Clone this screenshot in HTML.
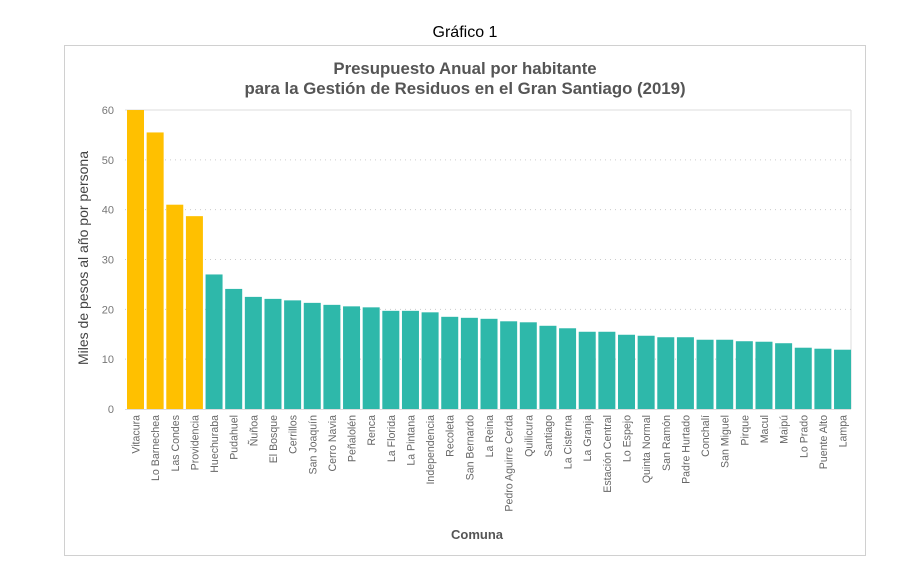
<!DOCTYPE html>
<html><head><meta charset="utf-8"><style>
body{margin:0;background:#fff;}
svg{display:block;font-family:"Liberation Sans",sans-serif;}
</style></head><body>
<svg id="s" width="913" height="578" viewBox="0 0 913 578">
<text x="465" y="37" text-anchor="middle" font-size="16" fill="#000">Gráfico 1</text>
<rect x="64.5" y="45.5" width="801" height="510" fill="#fff" stroke="#d0d0d0"/>
<text x="465" y="74" text-anchor="middle" font-size="16.8" font-weight="bold" fill="#555">Presupuesto Anual por habitante</text>
<text x="465" y="94" text-anchor="middle" font-size="16.8" font-weight="bold" fill="#555">para la Gestión de Residuos en el Gran Santiago (2019)</text>
<text transform="translate(88,258) rotate(-90)" text-anchor="middle" font-size="14" fill="#444">Miles de pesos al año por persona</text>
<text x="477" y="539" text-anchor="middle" font-size="13" font-weight="bold" fill="#555">Comuna</text>
<line x1="125" y1="110" x2="851" y2="110" stroke="#ddd"/>
<line x1="851" y1="110" x2="851" y2="409" stroke="#ddd"/>
<g id="g"></g>
</svg>
<script>
var names=["Vitacura","Lo Barnechea","Las Condes","Providencia","Huechuraba","Pudahuel","Ñuñoa","El Bosque","Cerrillos","San Joaquín","Cerro Navia","Peñalolén","Renca","La Florida","La Pintana","Independencia","Recoleta","San Bernardo","La Reina","Pedro Aguirre Cerda","Quilicura","Santiago","La Cisterna","La Granja","Estación Central","Lo Espejo","Quinta Normal","San Ramón","Padre Hurtado","Conchalí","San Miguel","Pirque","Macul","Maipú","Lo Prado","Puente Alto","Lampa"];
var v=[60,55.5,41,38.7,27,24.1,22.5,22.1,21.8,21.3,20.9,20.6,20.4,19.7,19.7,19.4,18.5,18.3,18.1,17.6,17.4,16.7,16.2,15.5,15.5,14.9,14.7,14.4,14.4,13.9,13.9,13.6,13.5,13.2,12.3,12.1,11.9];
var h='';
for(var t=0;t<=60;t+=10){var y=409-t*4.983;
 if(t>0&&t<60)h+='<line x1="125" x2="851" y1="'+y+'" y2="'+y+'" stroke="#ccc" stroke-dasharray="1,4"/>';
 h+='<text x="114" y="'+(y+4)+'" text-anchor="end" font-size="11" fill="#777">'+t+'</text>';}
for(var i=0;i<v.length;i++){var c=135.5+i*19.64,y=409-v[i]*4.983;
 h+='<rect x="'+(c-8.5)+'" y="'+y+'" width="17" height="'+(409-y)+'" fill="'+(i<4?'#FFC000':'#2EB8AA')+'"/>';
 h+='<text transform="translate('+(c+4)+',415) rotate(-90)" text-anchor="end" font-size="10.6" fill="#666">'+names[i]+'</text>';}
h+='<line x1="125" x2="851" y1="409.5" y2="409.5" stroke="#ddd"/>';
document.getElementById('g').innerHTML=h;
</script>
</body></html>
